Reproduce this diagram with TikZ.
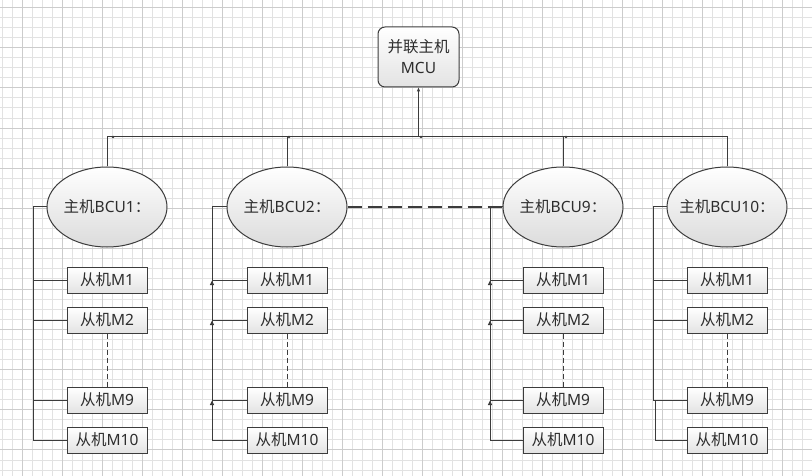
\documentclass[tikz,border=0pt]{standalone}
\usepackage{fontspec}
\setmainfont{Noto Sans}
\newfontfamily\cjk{Noto Sans CJK SC}
\usetikzlibrary{shapes.geometric,arrows.meta}
\definecolor{gridminor}{RGB}{226,226,226}
\definecolor{gridmajor}{RGB}{204,204,204}
\definecolor{ln}{RGB}{60,60,60}
\definecolor{txt}{RGB}{45,45,45}
\tikzset{
  box/.style={draw=ln, line width=1pt, top color=white, bottom color=black!11,
    minimum width=80pt, minimum height=26pt, inner sep=0pt,
    font=\fontsize{15.5}{19}\selectfont, text=txt},
  bcu/.style={ellipse, draw=ln, line width=1pt, top color=white, bottom color=black!14,
    minimum width=120pt, minimum height=80pt, inner sep=0pt},
  bcutext/.style={font=\fontsize{15.5}{19}\selectfont, text=txt, inner sep=0pt},
  conn/.style={draw=ln, line width=1pt},
  bigdash/.style={draw=ln, line width=2.2pt, dash pattern=on 14pt off 6pt},
  smalldash/.style={draw=ln, line width=1pt, dash pattern=on 5pt off 3pt},
  minorline/.style={draw=gridminor, line width=0.9pt},
  majorline/.style={draw=gridmajor, line width=0.9pt}
}
\begin{document}
\begin{tikzpicture}[x=1pt,y=-1pt]
\useasboundingbox (0,0) rectangle (812,476);
\fill[white] (0,0) rectangle (812,476);
\begin{scope}
\clip (0,0) rectangle (812,476);
\foreach \i in {0,...,81} \draw[minorline] (2.7+10*\i,0) -- (2.7+10*\i,476);
\foreach \j in {0,...,47} \draw[minorline] (0,7.3+10.06*\j) -- (812,7.3+10.06*\j);
\foreach \i in {0,...,20} \draw[majorline] (22.7+40*\i,0) -- (22.7+40*\i,476);
\foreach \j in {0,...,11} \draw[majorline] (0,7.3+40.24*\j) -- (812,7.3+40.24*\j);
\end{scope}

% master
\node[box, rounded corners=7pt, minimum width=81pt, minimum height=60pt, align=center,
  font=\fontsize{15.5}{21}\selectfont] (mcu) at (418.5,57) {{\cjk 并联主机}\\MCU};

% BCUs
\node[bcu] (bcu1) at (107,207) {};
\node[bcu] (bcu2) at (287,207) {};
\node[bcu] (bcu9) at (563,207) {};
\node[bcu] (bcu10) at (727,207) {};
\node[bcutext] (t1) at (bcu1) {{\cjk 主机}BCU1{\cjk ：}};
\node[bcutext] (t2) at (bcu2) {{\cjk 主机}BCU2{\cjk ：}};
\node[bcutext] (t9) at (bcu9) {{\cjk 主机}BCU9{\cjk ：}};
\node[bcutext] (t10) at (bcu10) {{\cjk 主机}BCU10{\cjk ：}};

% bus
\coordinate (bus) at (418.5,137);
\draw[conn] (bcu1.north) |- (bus);
\draw[conn] (bcu10.north) |- (bus);
\draw[conn] (bcu2.north) -- (bcu2.north |- bus);
\draw[conn] (bcu9.north) -- (bcu9.north |- bus);
\draw[conn, -{Triangle[length=4pt,width=3pt]}] (bus) -- (mcu.south);
\foreach \x in {113,289,421,566} \fill[ln] (\x,137) circle (1.3);

% dashed link between BCU2 and BCU9
\draw[bigdash] (bcu2.east) -- (bcu9.west);

% slaves
\foreach \c/\x in {1/107,2/287,9/563,10/727}{
  \node[box] (s\c m1) at (\x,280) {{\cjk 从机}M1};
  \node[box] (s\c m2) at (\x,320) {{\cjk 从机}M2};
  \node[box] (s\c m9) at (\x,400) {{\cjk 从机}M9};
  \node[box] (s\c m10) at (\x,440) {{\cjk 从机}M10};
  \draw[smalldash] (s\c m2.south) -- (s\c m9.north);
}

% local buses
\coordinate (b1) at (33,207);
\coordinate (b2) at (212,207);
\coordinate (b9) at (490,207);
\coordinate (b10) at (653,207);
\coordinate (b10j) at (655,400);
\foreach \c in {1,2,9}{
  \draw[conn] (bcu\c.west) -- (b\c) |- (s\c m10.west);
  \draw[conn] (b\c |- s\c m1.west) -- (s\c m1.west);
  \draw[conn] (b\c |- s\c m2.west) -- (s\c m2.west);
  \draw[conn] (b\c |- s\c m9.west) -- (s\c m9.west);
}
\draw[conn] (bcu10.west) -- (b10) |- (s10m9.west);
\draw[conn] (b10 |- s10m1.west) -- (s10m1.west);
\draw[conn] (b10 |- s10m2.west) -- (s10m2.west);
\draw[conn] (b10j) |- (s10m10.west);

% small up arrowheads
\foreach \x in {212,490}
  \foreach \y in {283,323,403}
    \fill[ln] (\x-2.2,\y+2) -- (\x+2.2,\y+2) -- (\x,\y-2.5) -- cycle;
\end{tikzpicture}
\end{document}
